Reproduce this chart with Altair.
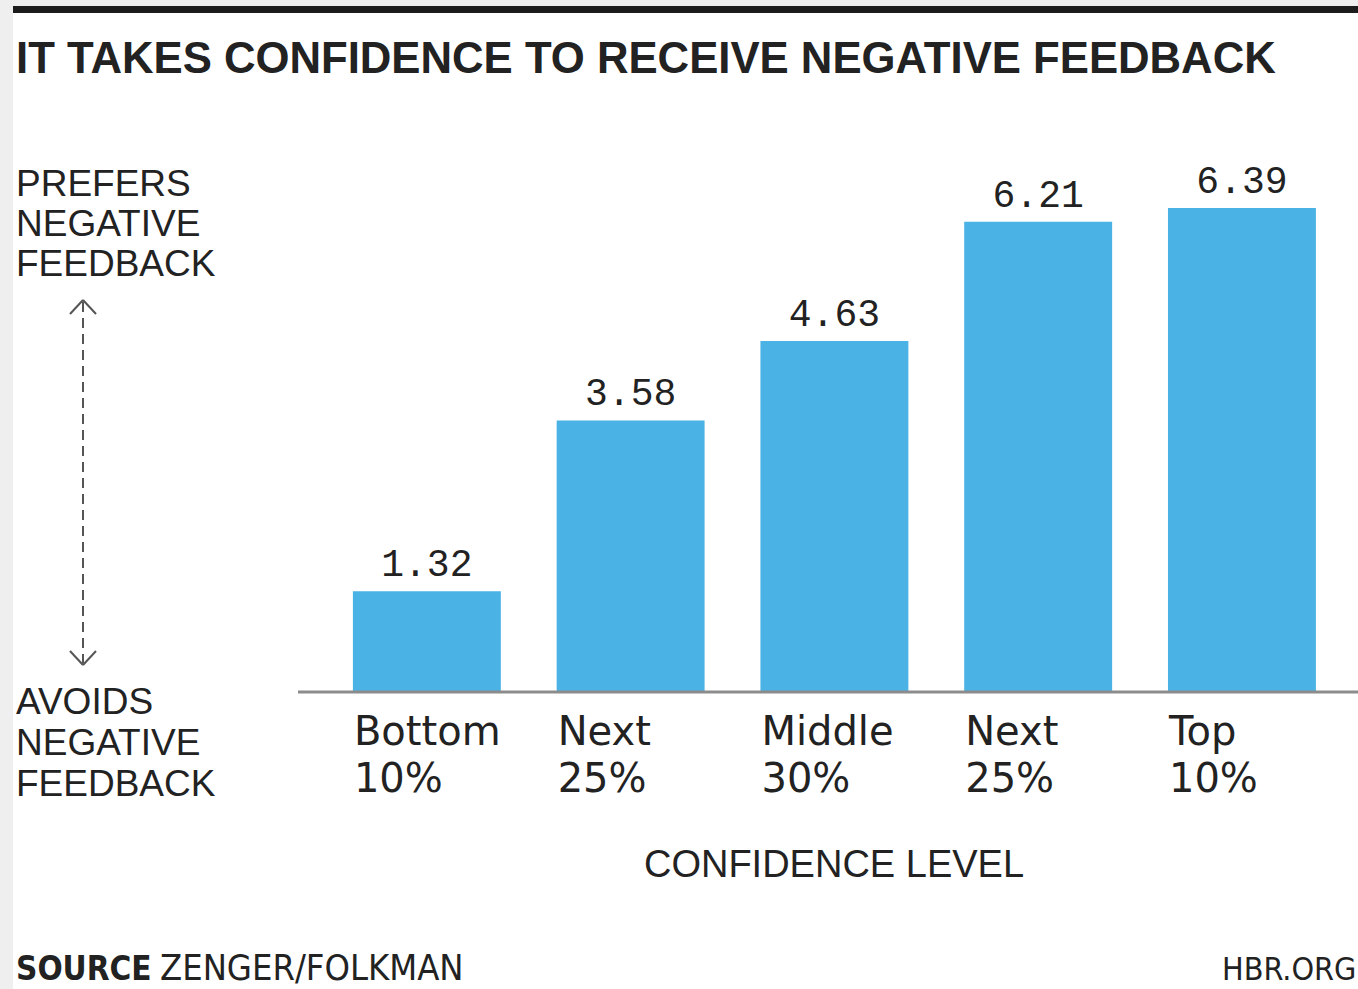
import altair as alt
import pandas as pd

# ---- data ----
groups = ["Bottom", "Next", "Middle", "Next", "Top"]
shares = ["10%", "25%", "30%", "25%", "10%"]
values = [1.32, 3.58, 4.63, 6.21, 6.39]

title_text = "IT TAKES CONFIDENCE TO RECEIVE NEGATIVE FEEDBACK"
top_label = "PREFERS\nNEGATIVE\nFEEDBACK"
bottom_label = "AVOIDS\nNEGATIVE\nFEEDBACK"
x_title = "CONFIDENCE LEVEL"
source_bold = "SOURCE"
source_rest = "ZENGER/FOLKMAN"
site = "HBR.ORG"

df = pd.DataFrame({
    "idx": list(range(len(values))),
    "label": [g + "\n" + s for g, s in zip(groups, shares)],
    "value": values,
})
one = pd.DataFrame({"k": [0]})

BAR = "#4ab2e4"
TXT = "#222222"
W, H = 1060, 529
LEFT, TOP = 298, 162
TOTAL_H = 989

xscale = alt.Scale(paddingInner=0.274, paddingOuter=0.238, align=0.566)
yscale = alt.Scale(domain=[0, 7], nice=False, zero=True)

base = alt.Chart(df)

bars = base.mark_bar(color=BAR).encode(
    x=alt.X("idx:O", scale=xscale, axis=None),
    y=alt.Y("value:Q", scale=yscale, axis=None),
)

vals = base.mark_text(align="center", baseline="alphabetic", dy=-15,
                      font="Liberation Mono", fontSize=38, color=TXT).encode(
    x=alt.X("idx:O", scale=xscale, axis=None),
    y=alt.Y("value:Q", scale=yscale, axis=None),
    text=alt.Text("value:Q", format=".2f"),
)

cats = base.mark_text(align="left", baseline="alphabetic", dx=1, lineBreak="\n",
                      lineHeight=47, font="DejaVu Sans", fontSize=40, color=TXT).encode(
    x=alt.X("idx:O", scale=xscale, axis=None, bandPosition=0),
    y=alt.value(745 - TOP),
    text="label:N",
)

c1 = alt.Chart(one)

bg_white = c1.mark_rect(color="white").encode(
    x=alt.value(13 - LEFT), x2=alt.value(W), y=alt.value(13 - TOP), y2=alt.value(TOTAL_H - TOP))
bg_black = c1.mark_rect(color="#1c1c1c").encode(
    x=alt.value(13 - LEFT), x2=alt.value(W), y=alt.value(6 - TOP), y2=alt.value(13 - TOP))

axis_line = c1.mark_rule(color="#8c8c8c", strokeWidth=3).encode(
    x=alt.value(0), x2=alt.value(W), y=alt.value(H + 1))

def txt(text, x, y, size, font="Liberation Sans", weight="normal", align="left", lh=None):
    kw = dict(text=text, align=align, baseline="alphabetic", font=font, fontSize=size,
              fontWeight=weight, color=TXT)
    if lh is not None:
        kw["lineBreak"] = "\n"
        kw["lineHeight"] = lh
    return c1.mark_text(**kw).encode(x=alt.value(x - LEFT), y=alt.value(y - TOP))

COND = "DejaVu Sans Condensed, Liberation Sans Narrow, Liberation Sans"
title = txt(title_text, 16, 73, 43.7, weight="bold")
lab_top = txt(top_label, 16, 196, 37, lh=40)
lab_bot = txt(bottom_label, 16, 714, 37, lh=41)
xt = txt(x_title, 834, 877, 38, align="center")
src1 = txt(source_bold, 16, 980, 33, font=COND, weight="bold")
src2 = txt(source_rest, 160, 980, 36, font=COND)
hbr = txt(site, 1222, 980, 32, font=COND)

AX = 83 - LEFT
ARROW = "#555555"
dash = c1.mark_rule(color=ARROW, strokeWidth=2, strokeDash=[10, 6]).encode(
    x=alt.value(AX), y=alt.value(302 - TOP), y2=alt.value(663 - TOP))

def seg(x1, y1, x2, y2):
    return c1.mark_rule(color=ARROW, strokeWidth=2).encode(
        x=alt.value(x1 - LEFT), y=alt.value(y1 - TOP),
        x2=alt.value(x2 - LEFT), y2=alt.value(y2 - TOP))

chev = [seg(83, 300, 70, 314), seg(83, 300, 96, 314),
        seg(83, 665, 70, 651), seg(83, 665, 96, 651)]

chart = alt.layer(
    bg_white, bg_black, bars, axis_line, vals, cats,
    title, lab_top, lab_bot, xt, src1, src2, hbr, dash, *chev
).properties(
    width=W, height=H,
    padding={"left": LEFT, "top": TOP, "right": 0, "bottom": TOTAL_H - TOP - H},
    autosize=alt.AutoSizeParams(type="none"),
    background="#efefef",
).configure_view(stroke=None)

chart.save("out.html", embed_options={"renderer": "svg", "actions": False})
